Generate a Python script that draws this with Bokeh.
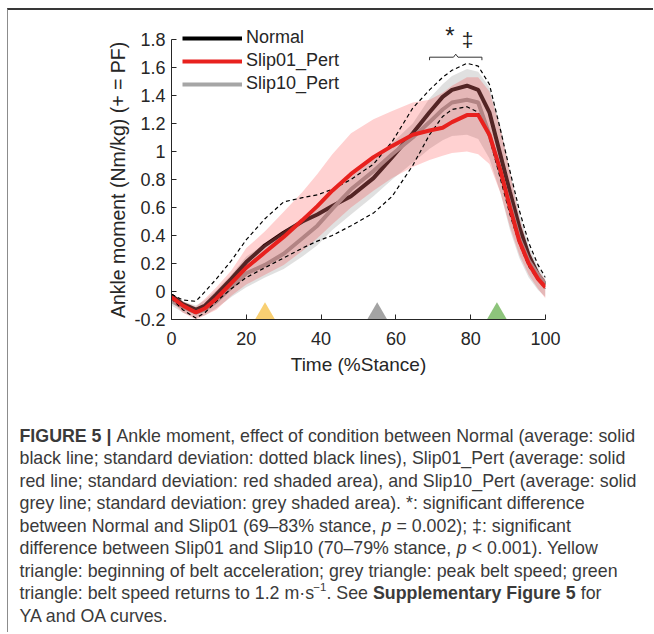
import math
from bokeh.plotting import figure
from bokeh.models import Legend, LegendItem, Label, FixedTicker
from bokeh.embed import file_html
from bokeh.resources import INLINE

# ---------------- data ----------------
stance = [0, 3, 6.5, 9, 12, 16, 20, 25, 30, 35, 39, 43, 48, 54, 59, 64.5, 69, 72.5, 75,
          79, 82, 85, 88, 90.5, 93, 95.5, 98, 100]

normal_mean = [-0.03, -0.09, -0.13, -0.10, -0.02, 0.09, 0.21, 0.33, 0.42, 0.50, 0.55, 0.61,
               0.68, 0.81, 0.96, 1.13, 1.28, 1.39, 1.44, 1.47, 1.44, 1.28, 0.97, 0.71,
               0.46, 0.26, 0.12, 0.05]
normal_upper = [-0.02, -0.06, -0.07, 0.00, 0.09, 0.22, 0.37, 0.52, 0.64, 0.67, 0.69, 0.73,
                0.80, 0.91, 1.07, 1.31, 1.44, 1.53, 1.58, 1.63, 1.61, 1.48, 1.15, 0.86,
                0.58, 0.35, 0.19, 0.10]
normal_lower = [-0.05, -0.13, -0.19, -0.15, -0.07, 0.02, 0.10, 0.17, 0.24, 0.31, 0.36, 0.40,
                0.47, 0.56, 0.68, 0.90, 1.12, 1.25, 1.30, 1.32, 1.28, 1.10, 0.80, 0.55,
                0.34, 0.18, 0.08, 0.02]

slip01_mean = [-0.04, -0.10, -0.15, -0.12, -0.05, 0.06, 0.17, 0.28, 0.39, 0.51, 0.61, 0.72,
               0.84, 0.96, 1.04, 1.12, 1.15, 1.17, 1.21, 1.26, 1.26, 1.12, 0.86, 0.60,
               0.36, 0.20, 0.09, 0.03]
slip01_upper = [-0.01, -0.07, -0.11, -0.05, 0.03, 0.15, 0.31, 0.43, 0.57, 0.71, 0.84, 0.98,
                1.13, 1.23, 1.29, 1.35, 1.37, 1.42, 1.47, 1.53, 1.53, 1.43, 1.16, 0.85,
                0.53, 0.30, 0.15, 0.08]
slip01_lower = [-0.07, -0.15, -0.20, -0.17, -0.13, -0.03, 0.05, 0.12, 0.19, 0.29, 0.38, 0.48,
                0.60, 0.72, 0.81, 0.89, 0.94, 0.97, 0.99, 1.00, 0.98, 0.91, 0.70, 0.46,
                0.26, 0.12, 0.02, -0.05]

slip10_mean = [-0.07, -0.11, -0.15, -0.13, -0.07, 0.03, 0.13, 0.19, 0.27, 0.38, 0.47, 0.59,
               0.73, 0.86, 0.98, 1.10, 1.21, 1.30, 1.35, 1.37, 1.35, 1.12, 0.85, 0.62,
               0.38, 0.22, 0.12, 0.05]
slip10_upper = [-0.02, -0.07, -0.10, -0.06, 0.01, 0.12, 0.25, 0.34, 0.43, 0.52, 0.60, 0.70,
                0.82, 0.95, 1.06, 1.20, 1.38, 1.48, 1.54, 1.59, 1.57, 1.46, 1.18, 0.86,
                0.56, 0.33, 0.17, 0.09]
slip10_lower = [-0.10, -0.15, -0.19, -0.17, -0.12, -0.04, 0.03, 0.10, 0.16, 0.25, 0.33, 0.44,
                0.55, 0.68, 0.80, 0.92, 1.02, 1.08, 1.11, 1.12, 1.09, 0.95, 0.70, 0.44,
                0.24, 0.10, 0.01, -0.04]

event_stance = [25, 55, 87]          # yellow, grey, green triangles
event_colors = ["#F8CF72", "#A3A3A3", "#8DC47B"]

sig_start, sig_end = 69, 83          # significance bracket (% stance)

x_ticks = [0, 20, 40, 60, 80, 100]
x_tick_labels = ["0", "20", "40", "60", "80", "100"]
y_ticks = [-0.2, 0, 0.2, 0.4, 0.6, 0.8, 1, 1.2, 1.4, 1.6, 1.8]
y_tick_labels = ["-0.2", "0", "0.2", "0.4", "0.6", "0.8", "1", "1.2", "1.4", "1.6", "1.8"]

legend_labels = ["Normal", "Slip01_Pert", "Slip10_Pert"]

caption_lines = [
    [("FIGURE 5 |", "bold"), (" Ankle moment, effect of condition between Normal (average: solid", "normal")],
    [("black line; standard deviation: dotted black lines), Slip01_Pert (average: solid", "normal")],
    [("red line; standard deviation: red shaded area), and Slip10_Pert (average: solid", "normal")],
    [("grey line; standard deviation: grey shaded area). *: significant difference", "normal")],
    [("between Normal and Slip01 (69\u201383% stance, ", "normal"), ("p", "italic"),
     (" = 0.002); \u2021: significant", "normal")],
    [("difference between Slip01 and Slip10 (70\u201379% stance, ", "normal"), ("p", "italic"),
     (" < 0.001). Yellow", "normal")],
    [("triangle: beginning of belt acceleration; grey triangle: peak belt speed; green", "normal")],
    [("triangle: belt speed returns to 1.2 m\u00b7s", "normal"), ("\u22121", "sup"),
     (". See ", "normal"), ("Supplementary Figure 5", "bold"), (" for", "normal")],
    [("YA and OA curves.", "normal")],
]

# ---------------- layout ----------------
W = 646                      # content width (page x 8 .. 654)
H1 = 370                     # chart part
H2 = 254                     # caption part
FL, FR = 163, 109
FT = 5
FB = 61
X0, X1 = 0, 100
Y0, YTOP = -0.2, 1.8
frame_w = W - FL - FR
frame_h = H1 - FT - FB
PX_PER_Y = 140.0
Y1 = Y0 + frame_h / PX_PER_Y          # range extends above 1.8 so legend / stars fit

def dx(px):
    return X0 + (px - FL) / frame_w * (X1 - X0)

def dy(py):
    return Y0 + ((H1 - FB) - py) / PX_PER_Y

AX = "#262626"
FONT = "Liberation Sans"
BORDER_L = "1px solid #8c8c8c"

p = figure(width=W, height=H1, output_backend="svg", toolbar_location=None,
           x_range=(X0, X1), y_range=(Y0, Y1),
           min_border_left=FL, min_border_right=FR, min_border_top=FT, min_border_bottom=FB)
p.styles = {"margin-top": "8px", "margin-left": "7px",
            "border-top": "2px solid #383838", "border-left": BORDER_L}
p.outline_line_color = None
p.xgrid.visible = False
p.ygrid.visible = False

r_norm = p.line(stance, normal_mean, line_color="black", line_width=4)
r_s10 = p.line(stance, slip10_mean, line_color="#A6A6A6", line_width=4)

p.varea(x=stance, y1=slip10_lower, y2=slip10_upper, fill_color="#999999", fill_alpha=0.30)
p.varea(x=stance, y1=slip01_lower, y2=slip01_upper, fill_color="#FF0000", fill_alpha=0.18)

p.line(stance, normal_upper, line_color="black", line_width=1.2, line_dash="4 3")
p.line(stance, normal_lower, line_color="black", line_width=1.2, line_dash="4 3")

r_s01 = p.line(stance, slip01_mean, line_color="#E8211E", line_width=4)

tri_size = 20
tri_y = Y0 + (tri_size / 2 * math.sqrt(3) / 3) / PX_PER_Y
p.scatter(x=event_stance, y=[tri_y] * len(event_stance), marker="triangle", size=tri_size,
          fill_color=event_colors, line_color=None)

# significance bracket + symbols
yb = dy(56.7 - 10)
tk = 3 / PX_PER_Y
mid = (sig_start + sig_end) / 2
bx = [sig_start, sig_start, mid - 0.6, mid, mid + 0.6, sig_end, sig_end]
by = [yb - tk, yb, yb, yb + tk, yb, yb, yb - tk]
p.line(bx, by, line_color="#333333", line_width=1)
p.add_layout(Label(x=dx(449.5 - 8), y=dy(35 - 10), text="*", text_align="center",
                   text_baseline="middle", text_font=FONT, text_font_size="24px",
                   text_color="#222222"))
p.add_layout(Label(x=dx(467 - 8), y=dy(39 - 10), text="\u2021", text_align="center",
                   text_baseline="middle", text_font=FONT, text_font_size="21px",
                   text_color="#222222"))

for ax in (p.xaxis[0], p.yaxis[0]):
    ax.axis_line_color = AX
    ax.major_tick_line_color = AX
    ax.major_tick_in = 5
    ax.major_tick_out = 0
    ax.minor_tick_line_color = None
    ax.major_label_text_font = FONT
    ax.major_label_text_font_size = "18px"
    ax.major_label_text_color = AX
    ax.axis_label_text_font = FONT
    ax.axis_label_text_font_style = "normal"
    ax.axis_label_text_color = AX

p.yaxis.bounds = (Y0, YTOP)
p.xaxis.ticker = FixedTicker(ticks=x_ticks)
p.xaxis.major_label_overrides = dict(zip(x_ticks, x_tick_labels))
p.yaxis.ticker = FixedTicker(ticks=y_ticks)
p.yaxis.major_label_overrides = dict(zip(y_ticks, y_tick_labels))
p.xaxis.axis_label = "Time (%Stance)"
# non-breaking padding at the end keeps the label centred on the -0.2..1.8 axis
p.yaxis.axis_label = "Ankle moment (Nm/kg) (+ = PF)" + "\u2002\u2002\u00a0"
p.xaxis.axis_label_text_font_size = "19px"
p.yaxis.axis_label_text_font_size = "19.5px"
p.xaxis.major_label_standoff = 12
p.yaxis.major_label_standoff = 6
p.xaxis.axis_label_standoff = 6
p.yaxis.axis_label_standoff = 2

legend = Legend(items=[LegendItem(label=legend_labels[0], renderers=[r_norm]),
                       LegendItem(label=legend_labels[1], renderers=[r_s01]),
                       LegendItem(label=legend_labels[2], renderers=[r_s10])],
                location=(11, 225), glyph_width=60, glyph_height=20, label_height=20,
                spacing=2, padding=0, margin=0, label_standoff=4,
                border_line_color=None, background_fill_alpha=0,
                label_text_font=FONT, label_text_font_size="18px", label_text_color=AX)
p.add_layout(legend)

# ---------------- caption (separate figure, frame = whole canvas) ----------------
AW = {' ': 278, '!': 278, '%': 889, '(': 333, ')': 333, '*': 389, '+': 584, ',': 278,
      '-': 333, '.': 278, '/': 278, ':': 278, ';': 278, '<': 584, '=': 584, '>': 584,
      '_': 556, '|': 260, '\u2013': 556, '\u00b7': 278, '\u2212': 584, '\u2021': 556,
      'A': 667, 'B': 667, 'C': 722, 'D': 722, 'E': 667, 'F': 611, 'G': 778, 'H': 722,
      'I': 278, 'J': 500, 'K': 667, 'L': 556, 'M': 833, 'N': 722, 'O': 778, 'P': 667,
      'Q': 778, 'R': 722, 'S': 667, 'T': 611, 'U': 722, 'V': 667, 'W': 944, 'X': 667,
      'Y': 667, 'Z': 611, 'a': 556, 'b': 556, 'c': 500, 'd': 556, 'e': 556, 'f': 278,
      'g': 556, 'h': 556, 'i': 222, 'j': 222, 'k': 500, 'l': 222, 'm': 833, 'n': 556,
      'o': 556, 'p': 556, 'q': 556, 'r': 333, 's': 500, 't': 278, 'u': 556, 'v': 500,
      'w': 722, 'x': 500, 'y': 500, 'z': 500}
ABW = dict(AW)
ABW.update({' ': 278, '|': 280, 'A': 722, 'B': 722, 'J': 556, 'K': 722, 'L': 611,
            'a': 556, 'b': 611, 'c': 556, 'd': 611, 'f': 333, 'g': 611, 'h': 611, 'i': 278,
            'j': 278, 'k': 556, 'l': 278, 'm': 889, 'n': 611, 'o': 611, 'p': 611, 'q': 611,
            'r': 389, 's': 556, 't': 333, 'u': 611, 'v': 556, 'w': 778, 'x': 556, 'y': 556})

def text_w(s, size, bold=False):
    tbl = ABW if bold else AW
    return sum(tbl.get(c, 556) for c in s) * size / 1000.0

cap = figure(width=W, height=H2, output_backend="svg", toolbar_location=None,
             x_range=(0, W), y_range=(H2, 0), x_axis_type=None, y_axis_type=None,
             min_border=0)
cap.styles = {"margin-left": "7px", "border-left": BORDER_L}
cap.outline_line_color = None
cap.grid.visible = False

CAP_SIZE = 17.8
SUP_SIZE = 11.5
CAP_COLOR = "#3a3a3a"
cap_x0 = 11
cap_y0 = 57
cap_dy = 22.5
for i, segs in enumerate(caption_lines):
    xx = cap_x0
    yy = cap_y0 + i * cap_dy
    for txt, style in segs:
        size = SUP_SIZE if style == "sup" else CAP_SIZE
        bold = style == "bold"
        ypos = yy - 6 if style == "sup" else yy
        fstyle = {"normal": "normal", "italic": "italic", "bold": "bold", "sup": "normal"}[style]
        core = txt.strip(" ")
        lead = len(txt) - len(txt.lstrip(" "))
        xx += text_w(" " * lead, size, bold)       # SVG drops edge spaces: advance instead
        cap.add_layout(Label(x=xx, y=ypos, text=core, text_align="left",
                             text_baseline="middle", text_font=FONT,
                             text_font_size=f"{size}px", text_font_style=fstyle,
                             text_color=CAP_COLOR))
        xx += text_w(txt[lead:], size, bold)

open("out.html", "w").write(file_html([p, cap], INLINE))
